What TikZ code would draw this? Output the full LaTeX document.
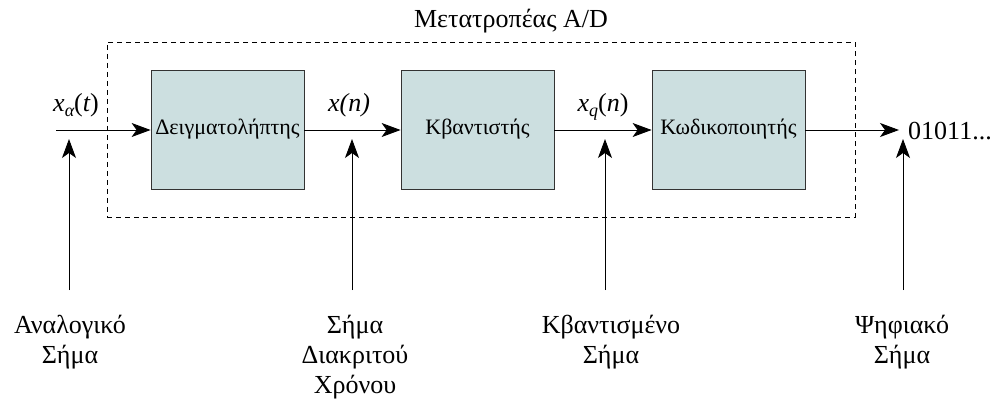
\documentclass[tikz,border=0pt]{standalone}
\usepackage{fontspec}
\setmainfont{Liberation Serif}
\usetikzlibrary{arrows.meta}
\definecolor{boxfill}{RGB}{204,223,224}
\newcommand\subsc[1]{\raisebox{-0.4ex}{\fontsize{18}{18}\selectfont #1}}
\begin{document}
\begin{tikzpicture}[x=1pt,y=-1pt,
  font=\fontsize{26}{30}\selectfont,
  blk/.style={draw=black!80,line width=0.8pt,fill=boxfill,minimum width=153pt,minimum height=119pt,inner sep=0pt,font=\fontsize{22}{26}\selectfont},
  arr/.style={line width=0.9pt,-{Stealth[length=19pt,width=14pt,inset=5pt]}},
  lbl/.style={align=center,inner sep=0pt},
  frame/.style={draw,dashed,line width=0.8pt,dash pattern=on 5pt off 4pt}]
\useasboundingbox (0,0) rectangle (1006,401);
\node[frame,minimum width=748pt,minimum height=175pt,inner sep=0pt] (conv) at (481,129.5) {};
\node[lbl,anchor=base] (title) at (511,28) {Μετατροπέας A/D};
\node[blk] (b1) at (227.5,129.5) {Δειγματολήπτης};
\node[blk] (b2) at (477.5,129.5) {Κβαντιστής};
\node[blk] (b3) at (728.5,129.5) {Κωδικοποιητής};
\coordinate (in) at (56,130);
\coordinate (outtip) at (899,130);
\node[lbl,anchor=west] (out) at (908,131) {01011...};
\draw[arr] (in) -- (b1.west |- in);
\draw[arr] (b1.east |- in) -- (b2.west |- in);
\draw[arr] (b2.east |- in) -- (b3.west |- in);
\draw[arr] (b3.east |- in) -- (outtip);
\node[lbl,anchor=base] (xa) at (76,112) {\itshape x\subsc{α}\upshape(\itshape t\upshape)};
\node[lbl,anchor=base] (xn) at (349,112) {\itshape x(n)};
\node[lbl,anchor=base] (xq) at (603,112) {\itshape x\subsc{q}\upshape(\itshape n\upshape)};
\node[lbl,anchor=north] (l1) at (70,315) {Αναλογικό\\Σήμα};
\node[lbl,anchor=north] (l2) at (355,315) {Σήμα\\Διακριτού\\Χρόνου};
\node[lbl,anchor=north] (l3) at (611,315) {Κβαντισμένο\\Σήμα};
\node[lbl,anchor=north] (l4) at (902,315) {Ψηφιακό\\Σήμα};
\coordinate (a1) at (69,139);
\coordinate (a2) at (352,139);
\coordinate (a3) at (605,139);
\coordinate (a4) at (903,139);
\draw[arr] (a1 |- 0,290) -- (a1);
\draw[arr] (a2 |- 0,290) -- (a2);
\draw[arr] (a3 |- 0,290) -- (a3);
\draw[arr] (a4 |- 0,290) -- (a4);
\end{tikzpicture}
\end{document}
